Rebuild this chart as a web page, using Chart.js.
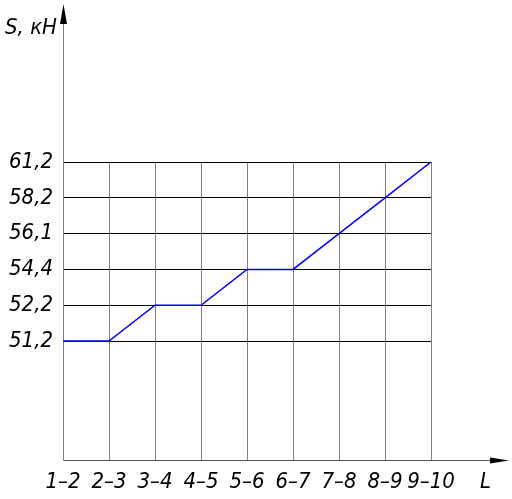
<!DOCTYPE html>
<html>
<head>
<meta charset="utf-8">
<script src="https://cdn.jsdelivr.net/npm/chart.js@4.4.1/dist/chart.umd.min.js"></script>
<style>
  html, body { margin: 0; padding: 0; background: #ffffff; }
  #wrap { width: 512px; height: 499px; }
</style>
</head>
<body>
<div id="wrap"><canvas id="c" width="512" height="499"></canvas></div>
<script>
// ---- data ----
const sections = ['1–2', '2–3', '3–4', '4–5', '5–6', '6–7', '7–8', '8–9', '9–10'];
const forceValues = [51.2, 51.2, 52.2, 52.2, 54.4, 54.4, 56.1, 58.2, 61.2];
const forceTicks = [51.2, 52.2, 54.4, 56.1, 58.2, 61.2];
const yAxisTitle = 'S, кН';
const xAxisTitle = 'L';

const FONT = "'Liberation Sans Narrow', 'DejaVu Sans Condensed', 'Liberation Sans', sans-serif";

// schematic (non-proportional) scale: each S level occupies one step
const points = forceValues.map((v, i) => ({ x: sections[i], y: forceTicks.indexOf(v) }));

const axisArrows = {
  id: 'axisArrows',
  afterDraw(chart) {
    const { ctx, chartArea: a } = chart;
    ctx.save();
    // y axis extension
    ctx.strokeStyle = '#808080';
    ctx.lineWidth = 1;
    ctx.beginPath();
    ctx.moveTo(a.left + 0.5, a.top);
    ctx.lineTo(a.left + 0.5, 14);
    ctx.stroke();
    ctx.fillStyle = '#000';
    ctx.beginPath();
    ctx.moveTo(a.left + 0.5, 4);
    ctx.lineTo(a.left - 3, 24);
    ctx.lineTo(a.left + 4, 24);
    ctx.closePath();
    ctx.fill();
    // x axis extension
    ctx.strokeStyle = '#555';
    ctx.beginPath();
    ctx.moveTo(a.right, a.bottom + 0.5);
    ctx.lineTo(500, a.bottom + 0.5);
    ctx.stroke();
    ctx.beginPath();
    ctx.moveTo(509, a.bottom + 0.5);
    ctx.lineTo(490, a.bottom - 2.5);
    ctx.lineTo(490, a.bottom + 3.5);
    ctx.closePath();
    ctx.fill();
    // axis titles
    ctx.font = 'italic 22px ' + FONT;
    ctx.textBaseline = 'middle';
    ctx.textAlign = 'left';
    ctx.fillText(yAxisTitle, 5, 28);
    ctx.fillText(xAxisTitle, 480, 482);
    ctx.restore();
  }
};

new Chart(document.getElementById('c'), {
  type: 'line',
  data: {
    labels: sections,
    datasets: [{
      data: points,
      borderColor: '#0000ff',
      borderWidth: 1.5,
      pointRadius: 0,
      tension: 0,
      fill: false
    }]
  },
  options: {
    responsive: false,
    animation: false,
    layout: { padding: { top: 162, right: 81, left: 0, bottom: 0 } },
    plugins: { legend: { display: false }, tooltip: { enabled: false } },
    scales: {
      x: {
        type: 'category',
        offset: false,
        grid: { color: '#808080', lineWidth: 1, drawTicks: false },
        border: { color: '#555', width: 1 },
        ticks: {
          color: '#000',
          font: { family: FONT, size: 22, style: 'italic' },
          maxRotation: 0, minRotation: 0, autoSkip: false, padding: 9
        },
        afterFit(scale) { scale.height = 39; }
      },
      y: {
        type: 'linear',
        min: -3.32,
        max: forceTicks.length - 1,
        afterBuildTicks(scale) { scale.ticks = forceTicks.map((_, i) => ({ value: i })); },
        grid: { color: '#000', lineWidth: 1, drawTicks: false },
        border: { color: '#808080', width: 1 },
        ticks: {
          color: '#000',
          font: { family: FONT, size: 22, style: 'italic' },
          padding: 10,
          callback(v) { return String(forceTicks[v]).replace('.', ','); }
        },
        afterFit(scale) { scale.width = 63; }
      }
    }
  },
  plugins: [axisArrows]
});
</script>
</body>
</html>
